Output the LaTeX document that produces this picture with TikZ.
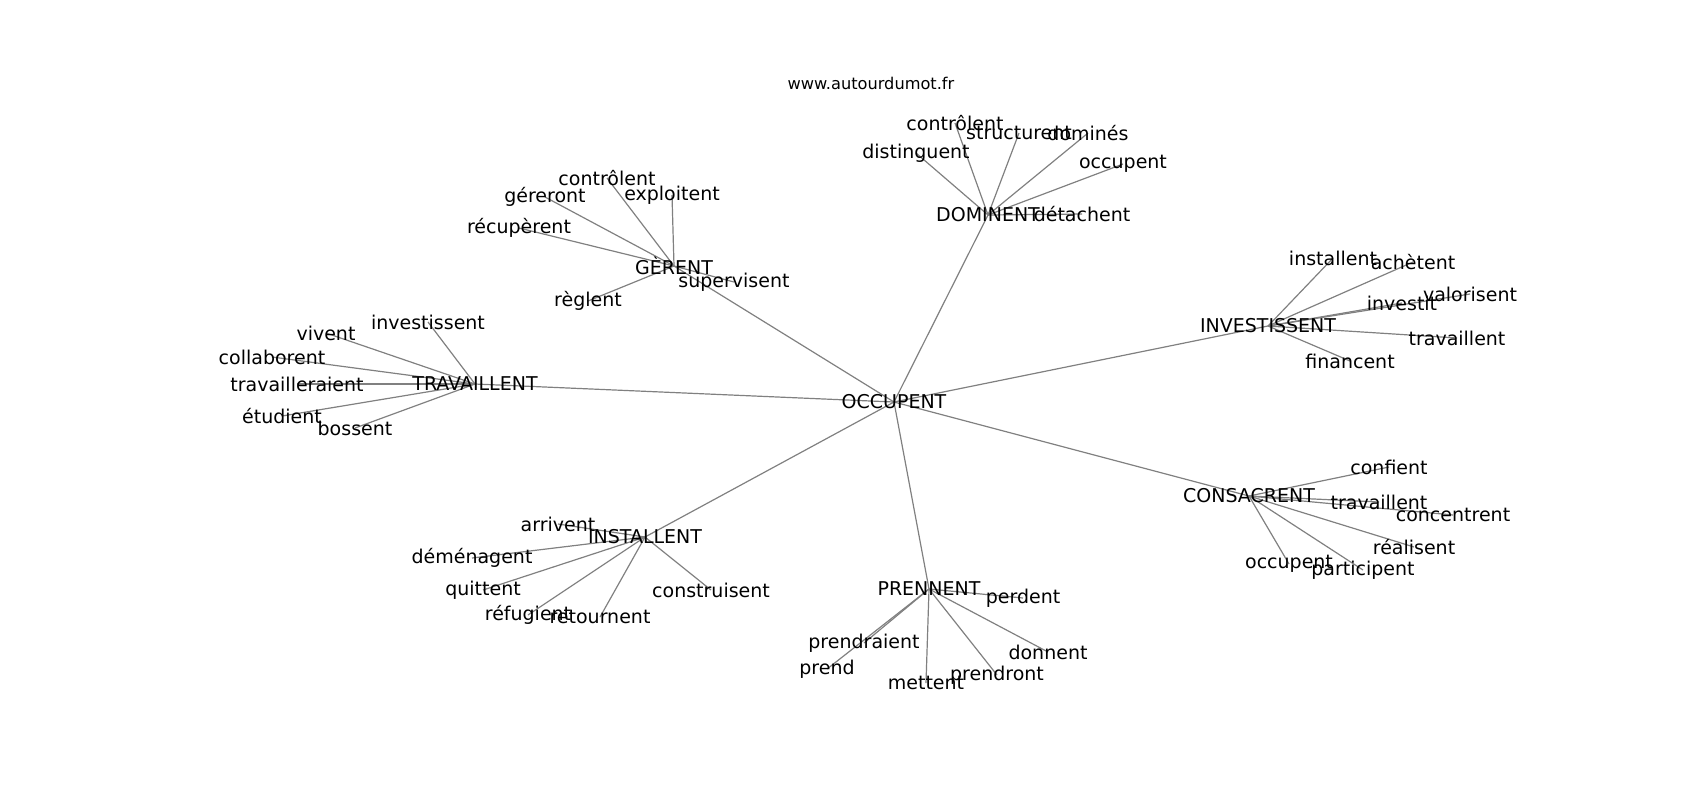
\documentclass[tikz,border=0pt]{standalone}
\usepackage{fontspec}
\setmainfont{DejaVu Sans}
\usetikzlibrary{backgrounds}
\tikzset{
word/.style={inner sep=0pt, font=\fontsize{9.5}{11}\selectfont},
site/.style={inner sep=0pt, font=\fontsize{8.1}{10}\selectfont},
link/.style={draw=gray, line width=0.6pt},
}

\begin{document}
\begin{tikzpicture}[x=0.5pt, y=-0.5pt]
    \useasboundingbox (0,0) rectangle (1700,800);

    \node[site] (title) at (871,83) {www.autourdumot.fr};

    %centre
    \node[word] (occ) at (894,402) {OCCUPENT};

    %group DOMINENT
    \node[word]  (dom) at (988,215) {DOMINENT};
    \node[word] (domA) at (955,123) {contrôlent};
    \node[word] (domB) at (1019,133) {structurent};
    \node[word] (domC) at (1088,133) {dominés};
    \node[word] (domD) at (916,153) {distinguent};
    \node[word] (domE) at (1123,164) {occupent};
    \node[word] (domF) at (1082,214) {détachent};

    %group GÈRENT
    \node[word]  (ger) at (674,266) {GÈRENT};
    \node[word] (gerA) at (607,178) {contrôlent};
    \node[word] (gerB) at (672,195) {exploitent};
    \node[word] (gerC) at (545,197) {géreront};
    \node[word] (gerD) at (519,228) {récupèrent};
    \node[word] (gerE) at (734,282) {supervisent};
    \node[word] (gerF) at (588,301) {règlent};

    %group TRAVAILLENT
    \node[word]  (trv) at (475,384) {TRAVAILLENT};
    \node[word] (trvA) at (428,322) {investissent};
    \node[word] (trvB) at (326,333) {vivent};
    \node[word] (trvC) at (272,357) {collaborent};
    \node[word] (trvD) at (297,384) {travailleraient};
    \node[word] (trvE) at (282,416) {étudient};
    \node[word] (trvF) at (355,428) {bossent};

    %group INVESTISSENT
    \node[word]  (inv) at (1268,326) {INVESTISSENT};
    \node[word] (invA) at (1333,258) {installent};
    \node[word] (invB) at (1413,262) {achètent};
    \node[word] (invC) at (1402,303) {investit};
    \node[word] (invD) at (1470,294) {valorisent};
    \node[word] (invE) at (1457,338) {travaillent};
    \node[word] (invF) at (1350,361) {financent};

    %group CONSACRENT
    \node[word]  (cns) at (1249,496) {CONSACRENT};
    \node[word] (cnsA) at (1389,467) {confient};
    \node[word] (cnsB) at (1379,502) {travaillent};
    \node[word] (cnsC) at (1453,515) {concentrent};
    \node[word] (cnsD) at (1414,547) {réalisent};
    \node[word] (cnsE) at (1289,564) {occupent};
    \node[word] (cnsF) at (1363,570) {participent};

    %group INSTALLENT
    \node[word]  (ins) at (645,537) {INSTALLENT};
    \node[word] (insA) at (558,524) {arrivent};
    \node[word] (insB) at (472,558) {déménagent};
    \node[word] (insC) at (483,590) {quittent};
    \node[word] (insD) at (711,590) {construisent};
    \node[word] (insE) at (528,615) {réfugient};
    \node[word] (insF) at (600,617) {retournent};

    %group PRENNENT
    \node[word]  (prn) at (929,589) {PRENNENT};
    \node[word] (prnA) at (1023,598) {perdent};
    \node[word] (prnB) at (864,643) {prendraient};
    \node[word] (prnC) at (827,669) {prend};
    \node[word] (prnD) at (926,683) {mettent};
    \node[word] (prnE) at (997,675) {prendront};
    \node[word] (prnF) at (1048,652) {donnent};

    \begin{scope}[on background layer]
    %centre to hubs
    \draw[link] (occ.center)--(dom.center);
    \draw[link] (occ.center)--(ger.center);
    \draw[link] (occ.center)--(trv.center);
    \draw[link] (occ.center)--(inv.center);
    \draw[link] (occ.center)--(cns.center);
    \draw[link] (occ.center)--(ins.center);
    \draw[link] (occ.center)--(prn.center);

    %lines DOMINENT
    \draw[link] (dom.center)--(domA.center);
    \draw[link] (dom.center)--(domB.center);
    \draw[link] (dom.center)--(domC.center);
    \draw[link] (dom.center)--(domD.center);
    \draw[link] (dom.center)--(domE.center);
    \draw[link] (dom.center)--(domF.center);

    %lines GÈRENT
    \draw[link] (ger.center)--(gerA.center);
    \draw[link] (ger.center)--(gerB.center);
    \draw[link] (ger.center)--(gerC.center);
    \draw[link] (ger.center)--(gerD.center);
    \draw[link] (ger.center)--(gerE.center);
    \draw[link] (ger.center)--(gerF.center);

    %lines TRAVAILLENT
    \draw[link] (trv.center)--(trvA.center);
    \draw[link] (trv.center)--(trvB.center);
    \draw[link] (trv.center)--(trvC.center);
    \draw[link] (trv.center)--(trvD.center);
    \draw[link] (trv.center)--(trvE.center);
    \draw[link] (trv.center)--(trvF.center);

    %lines INVESTISSENT
    \draw[link] (inv.center)--(invA.center);
    \draw[link] (inv.center)--(invB.center);
    \draw[link] (inv.center)--(invC.center);
    \draw[link] (inv.center)--(invD.center);
    \draw[link] (inv.center)--(invE.center);
    \draw[link] (inv.center)--(invF.center);

    %lines CONSACRENT
    \draw[link] (cns.center)--(cnsA.center);
    \draw[link] (cns.center)--(cnsB.center);
    \draw[link] (cns.center)--(cnsC.center);
    \draw[link] (cns.center)--(cnsD.center);
    \draw[link] (cns.center)--(cnsE.center);
    \draw[link] (cns.center)--(cnsF.center);

    %lines INSTALLENT
    \draw[link] (ins.center)--(insA.center);
    \draw[link] (ins.center)--(insB.center);
    \draw[link] (ins.center)--(insC.center);
    \draw[link] (ins.center)--(insD.center);
    \draw[link] (ins.center)--(insE.center);
    \draw[link] (ins.center)--(insF.center);

    %lines PRENNENT
    \draw[link] (prn.center)--(prnA.center);
    \draw[link] (prn.center)--(prnB.center);
    \draw[link] (prn.center)--(prnC.center);
    \draw[link] (prn.center)--(prnD.center);
    \draw[link] (prn.center)--(prnE.center);
    \draw[link] (prn.center)--(prnF.center);
    \end{scope}
\end{tikzpicture}
\end{document}
